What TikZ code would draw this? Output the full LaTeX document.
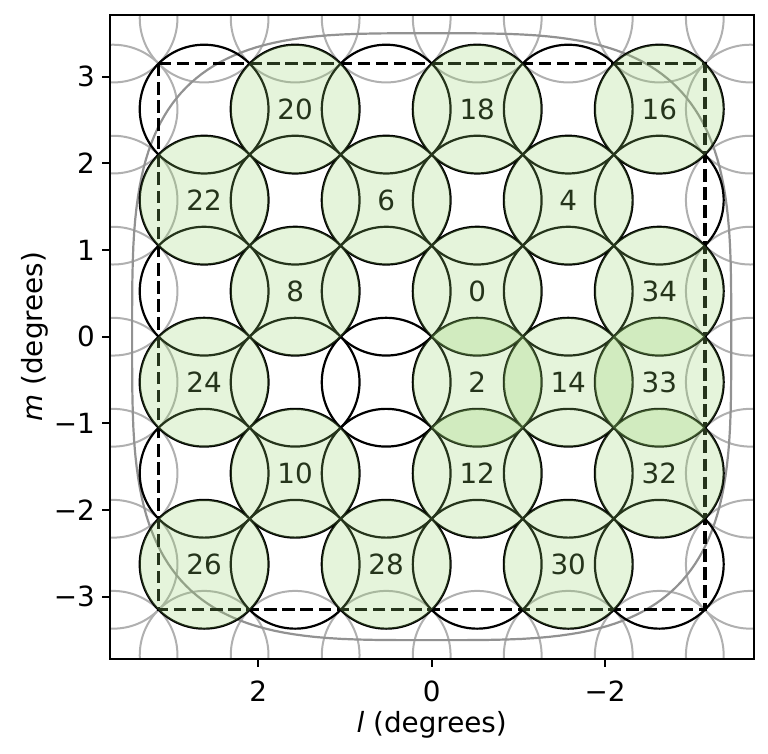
\documentclass[tikz,border=0pt]{standalone}
\usepackage{fontspec}
\setmainfont{DejaVu Sans}[ItalicFont={DejaVu Sans Oblique}]
\definecolor{fillgreen}{RGB}{150,210,110}
\definecolor{ringgray}{RGB}{176,176,176}
\definecolor{curvegray}{RGB}{146,146,146}
\begin{document}
\begin{tikzpicture}[
  beam/.style={draw=black, line width=1.1pt},
  outerbeam/.style={draw=ringgray, line width=1.0pt},
  fovcurve/.style={draw=curvegray, line width=1.1pt},
  dashsq/.style={draw=black, line width=1.7pt, dash pattern=on 6.3pt off 2.75pt},
  beamfill/.style={fill=fillgreen, fill opacity=0.25},
  beamlbl/.style={inner sep=0pt, font=\fontsize{13.9pt}{16pt}\selectfont},
  spine/.style={draw=black, line width=0.92pt},
  ticklbl/.style={inner sep=0pt, font=\fontsize{13.9pt}{16pt}\selectfont},
  axlbl/.style={inner sep=0pt, font=\fontsize{13.9pt}{16pt}\selectfont}
]
\useasboundingbox (0,0) rectangle (384pt,377pt);
\begin{scope}[shift={(215.85pt,208.65pt)}, x=-43.35pt, y=43.35pt]
  \begin{scope}
    \clip (3.715,3.715) rectangle (-3.715,-3.715);
    % outer ring of grey beams
    \foreach \k in {-1,...,6} {
      \draw[outerbeam] ({2.625-1.05*\k},3.675) circle[radius=32.19pt];
      \draw[outerbeam] ({2.625-1.05*\k},-3.675) circle[radius=32.19pt];
    }
    \foreach \k in {0,...,5} {
      \draw[outerbeam] (3.675,{2.625-1.05*\k}) circle[radius=32.19pt];
      \draw[outerbeam] (-3.675,{2.625-1.05*\k}) circle[radius=32.19pt];
    }
    % rounded field outline
    \draw[fovcurve] plot[domain=1:361, samples=181, variable=\t]
      ({3.455*sign(cos(\t))*pow(abs(cos(\t)),0.5714)},
       {3.50*sign(sin(\t))*pow(abs(sin(\t)),0.5714)}) -- cycle;
    % inner 6x6 beams
    \foreach \c in {0,...,5} {
      \foreach \r in {0,...,5} {
        \draw[beam] ({2.625-1.05*\c},{2.625-1.05*\r}) circle[radius=32.19pt];
      }
    }
    % dashed square
    \draw[dashsq] (3.15,3.15) -- (-3.15,3.15) -- (-3.15,-3.15) -- (3.15,-3.15) -- cycle;
    % labels
    \foreach \c/\r/\lab in {1/0/20, 3/0/18, 5/0/16, 0/1/22, 2/1/6, 4/1/4,
        1/2/8, 3/2/0, 5/2/34, 0/3/24, 3/3/2, 4/3/14, 5/3/33,
        1/4/10, 3/4/12, 5/4/32, 0/5/26, 2/5/28, 4/5/30} {
      \node[beamlbl] (n\lab) at ({2.625-1.05*\c},{2.625-1.05*\r}) {\lab};
    }
    % translucent fills
    \foreach \c/\r in {1/0, 3/0, 5/0, 0/1, 2/1, 4/1, 1/2, 3/2, 5/2,
        0/3, 3/3, 4/3, 5/3, 1/4, 3/4, 5/4, 0/5, 2/5, 4/5} {
      \fill[beamfill] ({2.625-1.05*\c},{2.625-1.05*\r}) circle[radius=32.19pt];
    }
  \end{scope}
  % axes frame
  \draw[spine] (3.715,3.715) rectangle (-3.715,-3.715);
  % y ticks
  \foreach \m/\t in {3/3, 2/2, 1/1, 0/0, -1/−1, -2/−2, -3/−3} {
    \draw[spine] (3.715,\m) -- ++(-4pt,0);
    \node[ticklbl, anchor=east, xshift=-7.2pt] (yt\m) at (3.715,\m) {\t};
  }
  % x ticks
  \foreach \l/\t in {2/2, 0/0, -2/−2} {
    \draw[spine] (\l,-3.715) -- ++(0,-4pt);
    \node[ticklbl, anchor=north, yshift=-10.6pt] (xt\l) at (\l,-3.715) {\t};
  }
\end{scope}
\node[axlbl, anchor=base] (xlab) at (215.85pt,10.5pt) {\textit{l} (degrees)};
\node[axlbl, rotate=90] (ylab) at (17.5pt,208.65pt) {\textit{m} (degrees)};
\end{tikzpicture}
\end{document}
